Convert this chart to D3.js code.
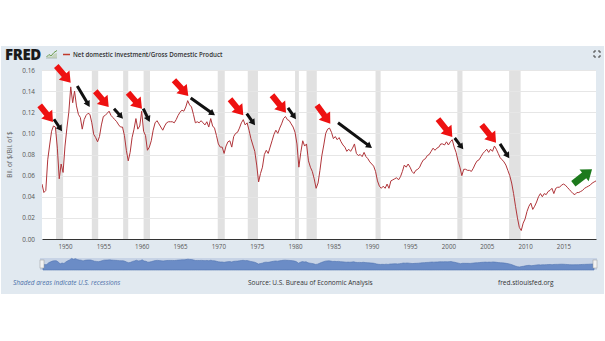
<!DOCTYPE html>
<html>
<head>
<meta charset="utf-8">
<script src="https://cdn.jsdelivr.net/npm/d3@7/dist/d3.min.js"></script>
<style>
  html, body { margin: 0; padding: 0; background: #ffffff; }
  svg { display: block; }
  text { font-family: "Open Sans", "DejaVu Sans", sans-serif; }
</style>
</head>
<body>
<svg id="chart" width="605" height="341"></svg>
<script>
// Net domestic investment / GDP, quarterly, first observation 1947 Q1
const values1940s = [
  0.052, 0.044, 0.046, 0.075,   // 1947
  0.089, 0.102, 0.107, 0.106,   // 1948
  0.086, 0.057, 0.071, 0.063    // 1949
];
const values1950s = [
  0.088, 0.105, 0.120, 0.144,   // 1950
  0.129, 0.140, 0.126, 0.118,   // 1951
  0.115, 0.104, 0.113, 0.117,   // 1952
  0.119, 0.118, 0.110, 0.099,   // 1953
  0.096, 0.092, 0.097, 0.108,   // 1954
  0.116, 0.117, 0.119, 0.121,   // 1955
  0.117, 0.115, 0.113, 0.111,   // 1956
  0.108, 0.106, 0.106, 0.098,   // 1957
  0.084, 0.074, 0.082, 0.096,   // 1958
  0.104, 0.114, 0.104, 0.107    // 1959
];
const values1960s = [
  0.121, 0.102, 0.098, 0.084,   // 1960
  0.087, 0.093, 0.103, 0.110,   // 1961
  0.112, 0.109, 0.106, 0.103,   // 1962
  0.107, 0.110, 0.111, 0.111,   // 1963
  0.111, 0.110, 0.113, 0.117,   // 1964
  0.120, 0.122, 0.121, 0.125,   // 1965
  0.131, 0.127, 0.125, 0.118,   // 1966
  0.110, 0.111, 0.110, 0.112,   // 1967
  0.110, 0.108, 0.111, 0.106,   // 1968
  0.114, 0.107, 0.105, 0.098    // 1969
];
const values1970s = [
  0.090, 0.087, 0.087, 0.081,   // 1970
  0.088, 0.092, 0.093, 0.087,   // 1971
  0.097, 0.100, 0.101, 0.105,   // 1972
  0.110, 0.113, 0.108, 0.110,   // 1973
  0.103, 0.095, 0.089, 0.083,   // 1974
  0.070, 0.054, 0.062, 0.068,   // 1975
  0.080, 0.084, 0.081, 0.087,   // 1976
  0.093, 0.099, 0.103, 0.100,   // 1977
  0.105, 0.109, 0.114, 0.116,   // 1978
  0.113, 0.112, 0.109, 0.106    // 1979
];
const values1980s = [
  0.101, 0.090, 0.068, 0.082,   // 1980
  0.093, 0.088, 0.090, 0.074,   // 1981
  0.068, 0.064, 0.057, 0.048,   // 1982
  0.053, 0.065, 0.079, 0.089,   // 1983
  0.100, 0.104, 0.105, 0.101,   // 1984
  0.095, 0.097, 0.094, 0.096,   // 1985
  0.092, 0.089, 0.087, 0.083,   // 1986
  0.085, 0.083, 0.086, 0.090,   // 1987
  0.081, 0.079, 0.080, 0.078,   // 1988
  0.082, 0.078, 0.076, 0.073    // 1989
];
const values1990s = [
  0.071, 0.069, 0.064, 0.055,   // 1990
  0.050, 0.048, 0.050, 0.048,   // 1991
  0.052, 0.048, 0.055, 0.056,   // 1992
  0.057, 0.058, 0.056, 0.059,   // 1993
  0.064, 0.070, 0.068, 0.071,   // 1994
  0.068, 0.064, 0.062, 0.065,   // 1995
  0.066, 0.068, 0.072, 0.075,   // 1996
  0.076, 0.079, 0.080, 0.083,   // 1997
  0.086, 0.084, 0.086, 0.087,   // 1998
  0.090, 0.090, 0.089, 0.092    // 1999
];
const values2000s = [
  0.089, 0.092, 0.094, 0.087,   // 2000
  0.082, 0.074, 0.068, 0.060,   // 2001
  0.066, 0.066, 0.065, 0.065,   // 2002
  0.064, 0.067, 0.071, 0.074,   // 2003
  0.075, 0.078, 0.081, 0.083,   // 2004
  0.085, 0.082, 0.085, 0.083,   // 2005
  0.088, 0.085, 0.081, 0.077,   // 2006
  0.075, 0.073, 0.070, 0.065,   // 2007
  0.060, 0.053, 0.043, 0.031,   // 2008
  0.020, 0.011, 0.008, 0.015    // 2009
];
const values2010s = [
  0.019, 0.026, 0.031, 0.034,   // 2010
  0.028, 0.031, 0.035, 0.040,   // 2011
  0.043, 0.040, 0.043, 0.042,   // 2012
  0.045, 0.046, 0.048, 0.043,   // 2013
  0.048, 0.049, 0.049, 0.051,   // 2014
  0.052, 0.051, 0.049, 0.047,   // 2015
  0.045, 0.043, 0.042, 0.044,   // 2016
  0.044, 0.045, 0.046, 0.048,   // 2017
  0.049, 0.050, 0.051, 0.053,   // 2018
  0.054, 0.055                  // 2019
];

// NBER recessions, [start, end] as "YYYY-MM"
const recessions = [
  ["1948-11", "1949-10"], ["1953-07", "1954-05"], ["1957-08", "1958-04"],
  ["1960-04", "1961-02"], ["1969-12", "1970-11"], ["1973-11", "1975-03"],
  ["1980-01", "1980-07"], ["1981-07", "1982-11"], ["1990-07", "1991-03"],
  ["2001-03", "2001-11"], ["2007-12", "2009-06"]
];

const yTicks = [0, 0.02, 0.04, 0.06, 0.08, 0.10, 0.12, 0.14, 0.16];
const xTickYears = [1950, 1955, 1960, 1965, 1970, 1975, 1980, 1985, 1990, 1995, 2000, 2005, 2010, 2015];

// Annotation arrows: [tailYear, tailValue, tipYear, tipValue]
const peakArrows = [
  [1946.70, 0.1266, 1948.43, 0.1108],
  [1948.86, 0.1638, 1950.74, 0.1480],
  [1953.95, 0.1399, 1955.70, 0.1250],
  [1958.22, 0.1385, 1960.04, 0.1234],
  [1964.21, 0.1503, 1966.08, 0.1354],
  [1971.52, 0.1323, 1973.25, 0.1171],
  [1976.99, 0.1361, 1978.82, 0.1196],
  [1982.86, 0.1266, 1984.60, 0.1092],
  [1998.64, 0.1134, 2000.51, 0.0966],
  [2004.34, 0.1080, 2006.21, 0.0912]
];
const declineArrows = [
  [1948.56, 0.1134, 1949.61, 0.1020],
  [1951.60, 0.1449, 1953.22, 0.1250],
  [1956.39, 0.1234, 1957.56, 0.1139],
  [1960.21, 0.1234, 1961.05, 0.1108],
  [1966.39, 0.1335, 1969.56, 0.1171],
  [1973.70, 0.1187, 1974.78, 0.1077],
  [1979.08, 0.1241, 1980.12, 0.1134],
  [1985.60, 0.1101, 1990.03, 0.0862],
  [2000.82, 0.0956, 2001.94, 0.0849],
  [2006.73, 0.0900, 2007.94, 0.0764]
];
const recoveryArrows = [
  [2016.29, 0.0524, 2018.73, 0.0660]
];

// ---------------------------------------------------------------
const allValues = [].concat(values1940s, values1950s, values1960s, values1970s,
                            values1980s, values1990s, values2000s, values2010s);
const series = allValues.map((v, i) => ({
  date: new Date(1947 + Math.floor(i / 4), (i % 4) * 3, 1),
  value: v
}));
const parseMonth = d3.timeParse("%Y-%m");
function yearToDate(y) {
  const y0 = Math.floor(y);
  const a = new Date(y0, 0, 1), b = new Date(y0 + 1, 0, 1);
  return new Date(+a + (y - y0) * (b - a));
}

const svg = d3.select("#chart");
const W = 605, H = 341;
const plot = { left: 42, right: 596, top: 70, bottom: 239 };

// panel background
svg.append("rect").attr("x", 1).attr("y", 46).attr("width", W - 2).attr("height", 248)
  .attr("fill", "#e1e9f0");

const x = d3.scaleTime()
  .domain([series[0].date, series[series.length - 1].date])
  .range([plot.left, plot.right]);
const y = d3.scaleLinear().domain([0, 0.16]).range([plot.bottom, plot.top]);

// plot background
svg.append("rect").attr("x", plot.left).attr("y", plot.top)
  .attr("width", plot.right - plot.left).attr("height", plot.bottom - plot.top)
  .attr("fill", "#ffffff");

svg.append("defs").append("clipPath").attr("id", "plotClip")
  .append("rect").attr("x", plot.left).attr("y", plot.top - 2)
  .attr("width", plot.right - plot.left).attr("height", plot.bottom - plot.top + 2);

// recession shading
svg.append("g").attr("clip-path", "url(#plotClip)")
  .selectAll("rect").data(recessions).join("rect")
  .attr("x", d => x(parseMonth(d[0])))
  .attr("width", d => x(parseMonth(d[1])) - x(parseMonth(d[0])))
  .attr("y", plot.top).attr("height", plot.bottom - plot.top)
  .attr("fill", "#e1e1e1");

// horizontal grid
svg.append("g").selectAll("line").data(yTicks.slice(1)).join("line")
  .attr("x1", plot.left).attr("x2", plot.right)
  .attr("y1", d => Math.round(y(d)) + 0.5).attr("y2", d => Math.round(y(d)) + 0.5)
  .attr("stroke", "#e6e6e6").attr("stroke-width", 1);

// y axis
const yAxis = d3.axisLeft(y).tickValues(yTicks).tickFormat(d3.format(".2f")).tickSize(0).tickPadding(7);
const gy = svg.append("g").attr("transform", `translate(${plot.left},0)`).call(yAxis);
gy.select(".domain").remove();
gy.selectAll("text").attr("fill", "#555").style("font-size", "6.4px");

svg.append("text")
  .attr("transform", `translate(12,${(plot.top + plot.bottom) / 2}) rotate(-90)`)
  .attr("text-anchor", "middle").attr("fill", "#666")
  .style("font-size", "6.4px").text("Bil. of $/Bil. of $");

// x axis
const xAxis = d3.axisBottom(x).tickValues(xTickYears.map(yr => new Date(yr, 0, 1)))
  .tickFormat(d3.timeFormat("%Y")).tickSize(0).tickPadding(6);
const gx = svg.append("g").attr("transform", `translate(0,${plot.bottom})`).call(xAxis);
gx.select(".domain").attr("stroke", "#333").attr("stroke-width", 1.2);
gx.selectAll("text").attr("fill", "#555").style("font-size", "6.2px");

// series line
const line = d3.line().x(d => x(d.date)).y(d => y(d.value));
svg.append("path").datum(series)
  .attr("clip-path", "url(#plotClip)")
  .attr("d", line).attr("fill", "none")
  .attr("stroke", "#b0353a").attr("stroke-width", 1).attr("stroke-linejoin", "round");

// annotation arrows
function arrowPoints(a, shaft, headW, headL) {
  const x1 = x(yearToDate(a[0])), y1 = y(a[1]);
  const x2 = x(yearToDate(a[2])), y2 = y(a[3]);
  const dx = x2 - x1, dy = y2 - y1, len = Math.hypot(dx, dy);
  const ux = dx / len, uy = dy / len, nx = -uy, ny = ux;
  const bx = x2 - ux * headL, by = y2 - uy * headL;
  const pts = [
    [x1 + nx * shaft / 2, y1 + ny * shaft / 2],
    [bx + nx * shaft / 2, by + ny * shaft / 2],
    [bx + nx * headW / 2, by + ny * headW / 2],
    [x2, y2],
    [bx - nx * headW / 2, by - ny * headW / 2],
    [bx - nx * shaft / 2, by - ny * shaft / 2],
    [x1 - nx * shaft / 2, y1 - ny * shaft / 2]
  ];
  return pts.map(p => p.join(",")).join(" ");
}
const arrows = svg.append("g");
arrows.selectAll(".decline").data(declineArrows).join("polygon").attr("class", "decline")
  .attr("points", d => arrowPoints(d, 3, 7, 6)).attr("fill", "#111");
arrows.selectAll(".peak").data(peakArrows).join("polygon").attr("class", "peak")
  .attr("points", d => arrowPoints(d, 6, 14, 10)).attr("fill", "#ee1111");
arrows.selectAll(".recovery").data(recoveryArrows).join("polygon").attr("class", "recovery")
  .attr("points", d => arrowPoints(d, 7, 15, 10)).attr("fill", "#1d7a1d");

// header: logo, legend, fullscreen icon
svg.append("text").attr("x", 5).attr("y", 59.5)
  .style("font-size", "15px").style("font-weight", "800").style("letter-spacing", "-0.4px")
  .attr("fill", "#1a1a1a").text("FRED");
const icon = svg.append("g").attr("transform", "translate(46,50)");
icon.append("path").attr("d", "M0,8 L11,8").attr("stroke", "#9aa").attr("stroke-width", 0.8);
icon.append("path").attr("d", "M0.5,7 L3,4.5 L5,6 L8,2.5 L11,0.5")
  .attr("fill", "none").attr("stroke", "#6a9a4a").attr("stroke-width", 1);
icon.append("path").attr("d", "M0.5,8 L3,6 L5,7 L8,4 L11,3 L11,8 Z").attr("fill", "#b9c9a9").attr("opacity", 0.7);

svg.append("line").attr("x1", 63).attr("x2", 70).attr("y1", 54.5).attr("y2", 54.5)
  .attr("stroke", "#c0392b").attr("stroke-width", 1.5);
svg.append("text").attr("x", 73).attr("y", 57)
  .style("font-size", "6.2px").style("font-weight", "600").attr("fill", "#333")
  .text("Net domestic investment/Gross Domestic Product");

const fs = svg.append("g").attr("transform", "translate(594,51)")
  .attr("fill", "none").attr("stroke", "#444").attr("stroke-width", 1);
fs.append("path").attr("d", "M0,2 V0 H2 M4,0 H6 V2 M6,4 V6 H4 M2,6 H0 V4");

// navigator
const nav = { left: 40, right: 597, top: 258, bottom: 270 };
svg.append("rect").attr("x", nav.left).attr("y", nav.top)
  .attr("width", nav.right - nav.left).attr("height", nav.bottom - nav.top)
  .attr("fill", "#c8d4e6");
const xn = d3.scaleTime().domain(x.domain()).range([nav.left + 3, nav.right - 3]);
const yn = d3.scaleLinear().domain([-0.04, 0.15]).range([nav.bottom, nav.top]);
svg.append("path").datum(series)
  .attr("d", d3.area().x(d => xn(d.date)).y0(nav.bottom).y1(d => yn(d.value)))
  .attr("fill", "#6b8cc6").attr("stroke", "#4f72b0").attr("stroke-width", 0.6);
[nav.left, nav.right - 4].forEach(hx => {
  svg.append("rect").attr("x", hx).attr("y", nav.top + 2).attr("width", 4).attr("height", 8)
    .attr("fill", "#f2f2f2").attr("stroke", "#999").attr("stroke-width", 0.5);
});

// footer
svg.append("text").attr("x", 13).attr("y", 285)
  .style("font-size", "6.5px").style("font-style", "italic").attr("fill", "#4a6fa8")
  .text("Shaded areas indicate U.S. recessions");
svg.append("text").attr("x", 248).attr("y", 285)
  .style("font-size", "6.5px").attr("fill", "#333")
  .text("Source: U.S. Bureau of Economic Analysis");
svg.append("text").attr("x", 498).attr("y", 285)
  .style("font-size", "6.5px").attr("fill", "#333")
  .text("fred.stlouisfed.org");
</script>
</body>
</html>
